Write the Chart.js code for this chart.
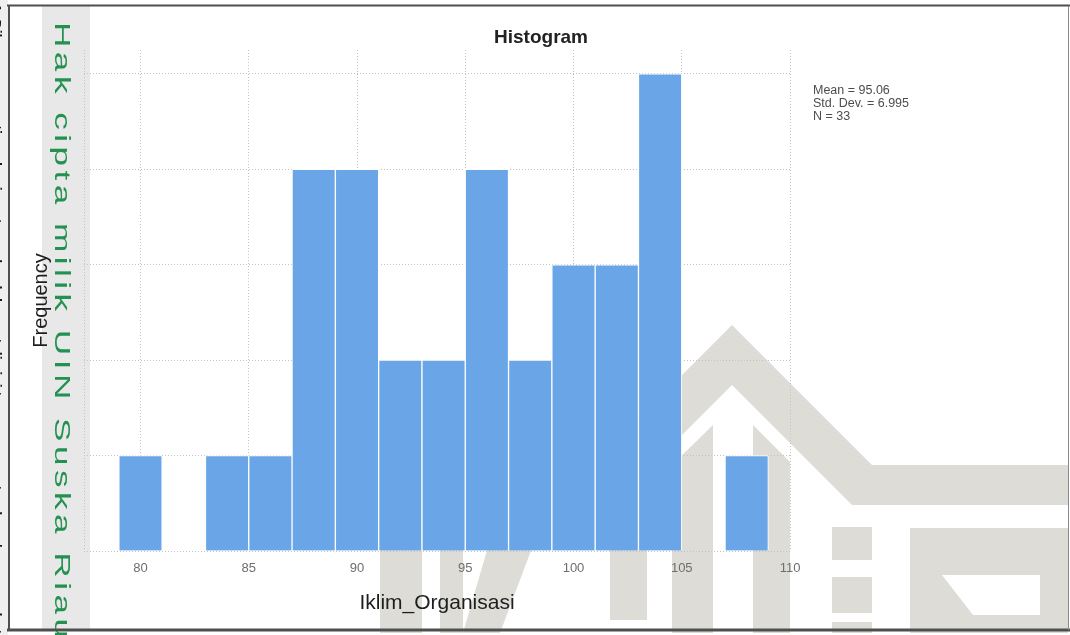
<!DOCTYPE html>
<html>
<head>
<meta charset="utf-8">
<script src="https://cdn.jsdelivr.net/npm/chart.js@4.4.1/dist/chart.umd.min.js"></script>
<style>
  html, body { margin: 0; padding: 0; background: #ffffff; overflow: hidden; }
  #wrap { width: 1070px; height: 635px; position: relative; }
</style>
</head>
<body>
<div id="wrap"><canvas id="c" width="1070" height="635"></canvas></div>
<script>
// Histogram bins (centre of each 2-unit bin) and their counts
const binCenters = [80, 84, 86, 88, 90, 92, 94, 96, 98, 100, 102, 104, 108];
const frequencies = [1, 1, 1, 4, 4, 2, 2, 4, 2, 3, 3, 5, 1];

// Axis tick values
const xTickValues = [80, 85, 90, 95, 100, 105, 110];
const yGridValues = [0, 1, 2, 3, 4, 5];

// Summary statistics shown beside the plot
const statMean = '95.06';
const statStdDev = '6.995';
const statN = frequencies.reduce((a, b) => a + b, 0);

const FONT = 'Arial, "Liberation Sans", sans-serif';
Chart.defaults.font.family = FONT;

// Page furniture: frame, side band, institutional watermark, heading and stats
const pageDecor = {
  id: 'pageDecor',
  beforeDraw(chart) {
    const ctx = chart.ctx;
    ctx.save();
    ctx.fillStyle = '#ffffff';
    ctx.fillRect(0, 0, chart.width, chart.height);
    ctx.fillStyle = '#efefef';
    ctx.fillRect(0, 0, 8, chart.height);
    // light band on the left margin
    ctx.fillStyle = '#e8e8e8';
    ctx.fillRect(42, 6, 48, 624);

    // faded logo in the lower right
    ctx.fillStyle = '#dddcd7';
    const poly = pts => {
      ctx.beginPath();
      ctx.moveTo(pts[0][0], pts[0][1]);
      for (let i = 1; i < pts.length; i++) ctx.lineTo(pts[i][0], pts[i][1]);
      ctx.closePath();
      ctx.fill();
    };
    // roof
    poly([[732, 325], [872, 465], [1068, 465], [1068, 505], [852, 505], [732, 385], [592, 525], [592, 465]]);
    // U
    poly([[672, 465], [713, 425], [713, 633], [672, 633]]);
    poly([[753, 425], [790, 462], [790, 633], [753, 633]]);
    // I
    ctx.fillRect(832, 527, 40, 33);
    ctx.fillRect(832, 577, 40, 36);
    ctx.fillRect(832, 622, 40, 11);
    // N
    ctx.fillRect(910, 528, 158, 105);
    ctx.fillStyle = '#ffffff';
    poly([[942, 575], [1040, 575], [1040, 615], [973, 615]]);
    ctx.fillStyle = '#dddcd7';
    // strokes below the axis
    ctx.fillRect(380, 540, 42, 93);
    ctx.fillRect(440, 540, 23, 93);
    poly([[490, 540], [535, 540], [500, 633], [463, 633]]);
    ctx.fillRect(610, 540, 37, 80);
    ctx.restore();
  },
  beforeDatasetsDraw(chart) {
    const ctx = chart.ctx;
    const a = chart.chartArea;
    ctx.save();
    ctx.strokeStyle = '#c2c2c2';
    ctx.lineWidth = 1;
    ctx.setLineDash([1, 2]);
    ctx.beginPath();
    ctx.moveTo(Math.round(a.left) + 0.5, a.top);
    ctx.lineTo(Math.round(a.left) + 0.5, a.bottom);
    ctx.stroke();
    ctx.restore();
  },
  afterDraw(chart) {
    const ctx = chart.ctx;
    ctx.save();

    // heading
    ctx.fillStyle = '#222222';
    ctx.font = 'bold 19px ' + FONT;
    ctx.textAlign = 'center';
    ctx.textBaseline = 'alphabetic';
    ctx.fillText('Histogram', 541, 43);

    // statistics
    ctx.fillStyle = '#4d4d4d';
    ctx.font = '12.5px ' + FONT;
    ctx.textAlign = 'left';
    ctx.fillText('Mean = ' + statMean, 813, 93.5);
    ctx.fillText('Std. Dev. = ' + statStdDev, 813, 106.5);
    ctx.fillText('N = ' + statN, 813, 119.5);

    // vertical green caption in the band, stretched along its run
    const caption = 'Hak cipta milik UIN Suska Riau';
    const stretch = 1.6;
    const runLength = 616;
    ctx.save();
    ctx.font = '22px ' + FONT;
    const chars = Array.from(caption);
    const natural = chars.reduce((s, ch) => s + ctx.measureText(ch).width, 0) * stretch;
    const gap = (runLength - natural) / (chars.length - 1);
    ctx.translate(55, 22);
    ctx.rotate(Math.PI / 2);
    ctx.scale(stretch, 1);
    ctx.fillStyle = '#23914f';
    let pos = 0;
    for (const ch of chars) {
      ctx.fillText(ch, pos, 0);
      pos += ctx.measureText(ch).width + gap / stretch;
    }
    ctx.restore();

    // margin note, mostly outside the page edge
    ctx.save();
    ctx.translate(-9, 4);
    ctx.rotate(Math.PI / 2);
    ctx.fillStyle = '#1a1a1a';
    ctx.font = 'bold 14px ' + FONT;
    ctx.fillText('1. Dilarang mengutip sebagian atau seluruh karya tulis ini tanpa mencantumkan dan menyebutkan sumber', 0, 0);
    ctx.restore();

    // page frame
    ctx.strokeStyle = '#4f4f4f';
    ctx.lineWidth = 2;
    ctx.beginPath();
    ctx.moveTo(7, 5.5); ctx.lineTo(1070, 5.5);
    ctx.moveTo(9, 5); ctx.lineTo(9, 631);
    ctx.stroke();
    ctx.lineWidth = 3;
    ctx.beginPath();
    ctx.moveTo(7, 630); ctx.lineTo(1070, 630);
    ctx.stroke();
    ctx.strokeStyle = '#8a8a8a';
    ctx.lineWidth = 1;
    ctx.beginPath();
    ctx.moveTo(1068.5, 6); ctx.lineTo(1068.5, 630);
    ctx.stroke();
    ctx.restore();
  }
};

new Chart(document.getElementById('c'), {
  type: 'bar',
  data: {
    datasets: [{
      label: 'Iklim_Organisasi',
      data: binCenters.map((x, i) => ({ x: x, y: frequencies[i] })),
      backgroundColor: '#6aa5e7',
      borderColor: '#ffffff',
      borderWidth: 1,
      barPercentage: 1,
      categoryPercentage: 1
    }]
  },
  options: {
    responsive: false,
    animation: false,
    layout: { padding: { left: 0, top: 50, right: 280, bottom: 0 } },
    plugins: {
      legend: { display: false },
      tooltip: { enabled: false },
      title: { display: false }
    },
    scales: {
      x: {
        type: 'linear',
        min: 77.39,
        max: 110,
        offset: false,
        afterBuildTicks: s => { s.ticks = xTickValues.map(v => ({ value: v })); },
        afterFit: s => { s.height = 84; },
        grid: { display: true, offset: false, drawTicks: false, color: '#c2c2c2', lineWidth: 1 },
        border: { display: false, dash: [1, 2] },
        ticks: { color: '#6e6e6e', font: { size: 13 }, padding: 10, maxRotation: 0, autoSkip: false },
        title: { display: true, text: 'Iklim_Organisasi', color: '#1e1e1e', font: { size: 21 }, padding: { top: 0, bottom: 19 } }
      },
      y: {
        min: 0,
        max: 5.25,
        afterBuildTicks: s => { s.ticks = yGridValues.map(v => ({ value: v })); },
        afterFit: s => { s.width = 84; },
        grid: { display: true, drawTicks: false, color: '#c2c2c2', lineWidth: 1 },
        border: { display: false, dash: [1, 2] },
        ticks: { display: false },
        title: { display: true, text: 'Frequency', color: '#1e1e1e', font: { size: 20 }, padding: { top: 29, bottom: 0 } }
      }
    }
  },
  plugins: [pageDecor]
});
</script>
</body>
</html>
